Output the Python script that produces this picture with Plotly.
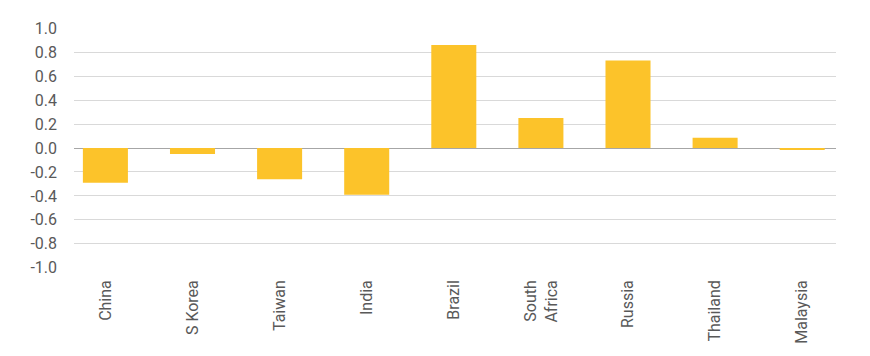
import plotly.graph_objects as go

categories = ["China", "S Korea", "Taiwan", "India", "Brazil", "South<br>Africa", "Russia", "Thailand", "Malaysia"]
values = [-0.29, -0.05, -0.26, -0.39, 0.86, 0.25, 0.73, 0.085, -0.01]
y_tick_vals = [-1.0, -0.8, -0.6, -0.4, -0.2, 0.0, 0.2, 0.4, 0.6, 0.8, 1.0]
y_tick_text = ["-1.0", "-0.8", "-0.6", "-0.4", "-0.2", "0.0", "0.2", "0.4", "0.6", "0.8", "1.0"]

fig = go.Figure(go.Bar(
    x=categories, y=values,
    marker=dict(color="#FCC32A", line=dict(width=0)),
    width=0.517,
))

fig.update_layout(
    width=862, height=348,
    margin=dict(l=66, r=34, t=20, b=88),
    paper_bgcolor="white", plot_bgcolor="white",
    font=dict(family="Roboto", size=16, color="#595959"),
    showlegend=False,
)
fig.update_xaxes(
    range=[-0.3605, 8.388],
    tickangle=-90,
    showgrid=False, showline=False, ticks="",
    ticklabelstandoff=8,
    automargin=False,
    tickfont=dict(family="Roboto", size=16, color="#595959"),
)
fig.update_yaxes(
    range=[-1.002, 1.002],
    tickvals=y_tick_vals, ticktext=y_tick_text,
    showgrid=True, gridcolor="#D9D9D9", gridwidth=1,
    zeroline=True, zerolinecolor="#A6A6A6", zerolinewidth=1,
    showline=False, ticks="",
    ticklabelstandoff=16,
    automargin=False,
    tickfont=dict(family="Roboto", size=16, color="#595959"),
)

fig.write_html("out.html")
